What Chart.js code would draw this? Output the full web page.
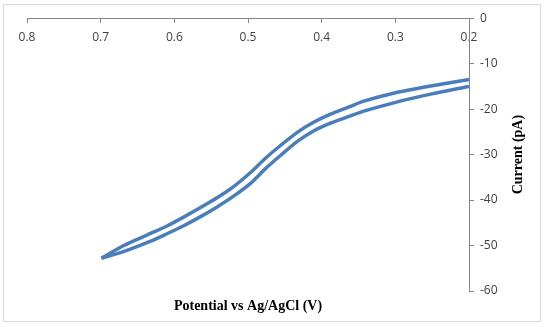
<!DOCTYPE html>
<html>
<head>
<meta charset="utf-8">
<script src="https://cdn.jsdelivr.net/npm/chart.js@4"></script>
<style>
  html, body { margin: 0; padding: 0; background: #fff; }
  #frame {
    position: absolute; left: 3px; top: 4px;
    width: 538px; height: 318px;
    border: 1px solid #d9d9d9; box-sizing: border-box;
  }
  #chart { display: block; }
</style>
</head>
<body>
<div id="frame"><canvas id="chart" width="536" height="316"></canvas></div>
<script>
// Data (two branches of the sweep)
const upperV = [0.200, 0.252, 0.297, 0.344, 0.361, 0.388, 0.411, 0.433, 0.456, 0.477, 0.497, 0.520, 0.542, 0.565, 0.588, 0.610, 0.633, 0.670, 0.699];
const upperI = [-13.5, -14.9, -16.3, -18.3, -19.4, -21.1, -22.9, -25.1, -28.0, -30.9, -34.0, -37.1, -39.5, -41.7, -43.8, -45.7, -47.4, -50.1, -52.8];
const lowerV = [0.699, 0.670, 0.633, 0.610, 0.588, 0.565, 0.542, 0.520, 0.497, 0.477, 0.456, 0.433, 0.411, 0.388, 0.361, 0.344, 0.297, 0.252, 0.200];
const lowerI = [-52.8, -51.4, -49.1, -47.4, -45.7, -43.7, -41.5, -39.2, -36.4, -33.2, -30.2, -27.1, -24.8, -23.1, -21.5, -20.5, -18.4, -16.7, -15.0];
const xTitle = 'Potential vs Ag/AgCl (V)';
const yTitle = 'Current (pA)';

const toPoints = (xs, ys) => xs.map((x, i) => ({x: x, y: ys[i]}));

const lineColor = '#4a7ebb';
const axisColor = '#868686';
const tickFont = {family: 'Open Sans', size: 12};

// y axis title reads bottom-to-top on the right side
const yTitlePlugin = {
  id: 'yTitle',
  afterDraw(chart) {
    const {ctx, chartArea} = chart;
    ctx.save();
    ctx.translate(chartArea.right + 49, (chartArea.top + chartArea.bottom) / 2);
    ctx.rotate(-Math.PI / 2);
    ctx.font = 'bold 14px "Liberation Serif"';
    ctx.fillStyle = '#000';
    ctx.textAlign = 'center';
    ctx.textBaseline = 'middle';
    ctx.fillText(yTitle, 0, 0);
    ctx.restore();
  }
};

new Chart(document.getElementById('chart'), {
  type: 'scatter',
  data: {
    datasets: [
      {data: toPoints(upperV, upperI)},
      {data: toPoints(lowerV, lowerI)}
    ].map(ds => Object.assign(ds, {
      showLine: true,
      borderColor: lineColor,
      backgroundColor: lineColor,
      borderWidth: 3.5,
      pointRadius: 0,
      tension: 0.25,
      xAxisID: 'x',
      yAxisID: 'y'
    }))
  },
  options: {
    responsive: false,
    animation: false,
    layout: {padding: {left: 23, top: 13, right: 0, bottom: 0}},
    plugins: {legend: {display: false}, tooltip: {enabled: false}},
    scales: {
      x: {
        type: 'linear',
        position: {y: 0},
        min: 0.2, max: 0.8,
        reverse: true,
        ticks: {stepSize: 0.1, color: '#404040', font: tickFont, padding: 8, maxRotation: 0},
        grid: {drawOnChartArea: false, drawTicks: true, tickLength: 4, color: axisColor},
        border: {color: axisColor, width: 1}
      },
      x2: {
        type: 'linear',
        position: 'bottom',
        min: 0.2, max: 0.8,
        reverse: true,
        ticks: {display: false},
        grid: {display: false},
        border: {display: false},
        title: {
          display: true, text: xTitle, color: '#000',
          font: {family: 'Liberation Serif', size: 14, weight: 'bold'},
          padding: {top: 0, bottom: 6}
        },
        afterFit(scale) { scale.height = 30; }
      },
      y: {
        type: 'linear',
        position: 'right',
        min: -60, max: 0,
        ticks: {stepSize: 10, color: '#404040', font: tickFont, padding: 6},
        grid: {drawOnChartArea: false, drawTicks: true, tickLength: 5, color: axisColor},
        border: {color: axisColor, width: 1},
        afterFit(scale) { scale.width = 71; }
      }
    }
  },
  plugins: [yTitlePlugin]
});
</script>
</body>
</html>
